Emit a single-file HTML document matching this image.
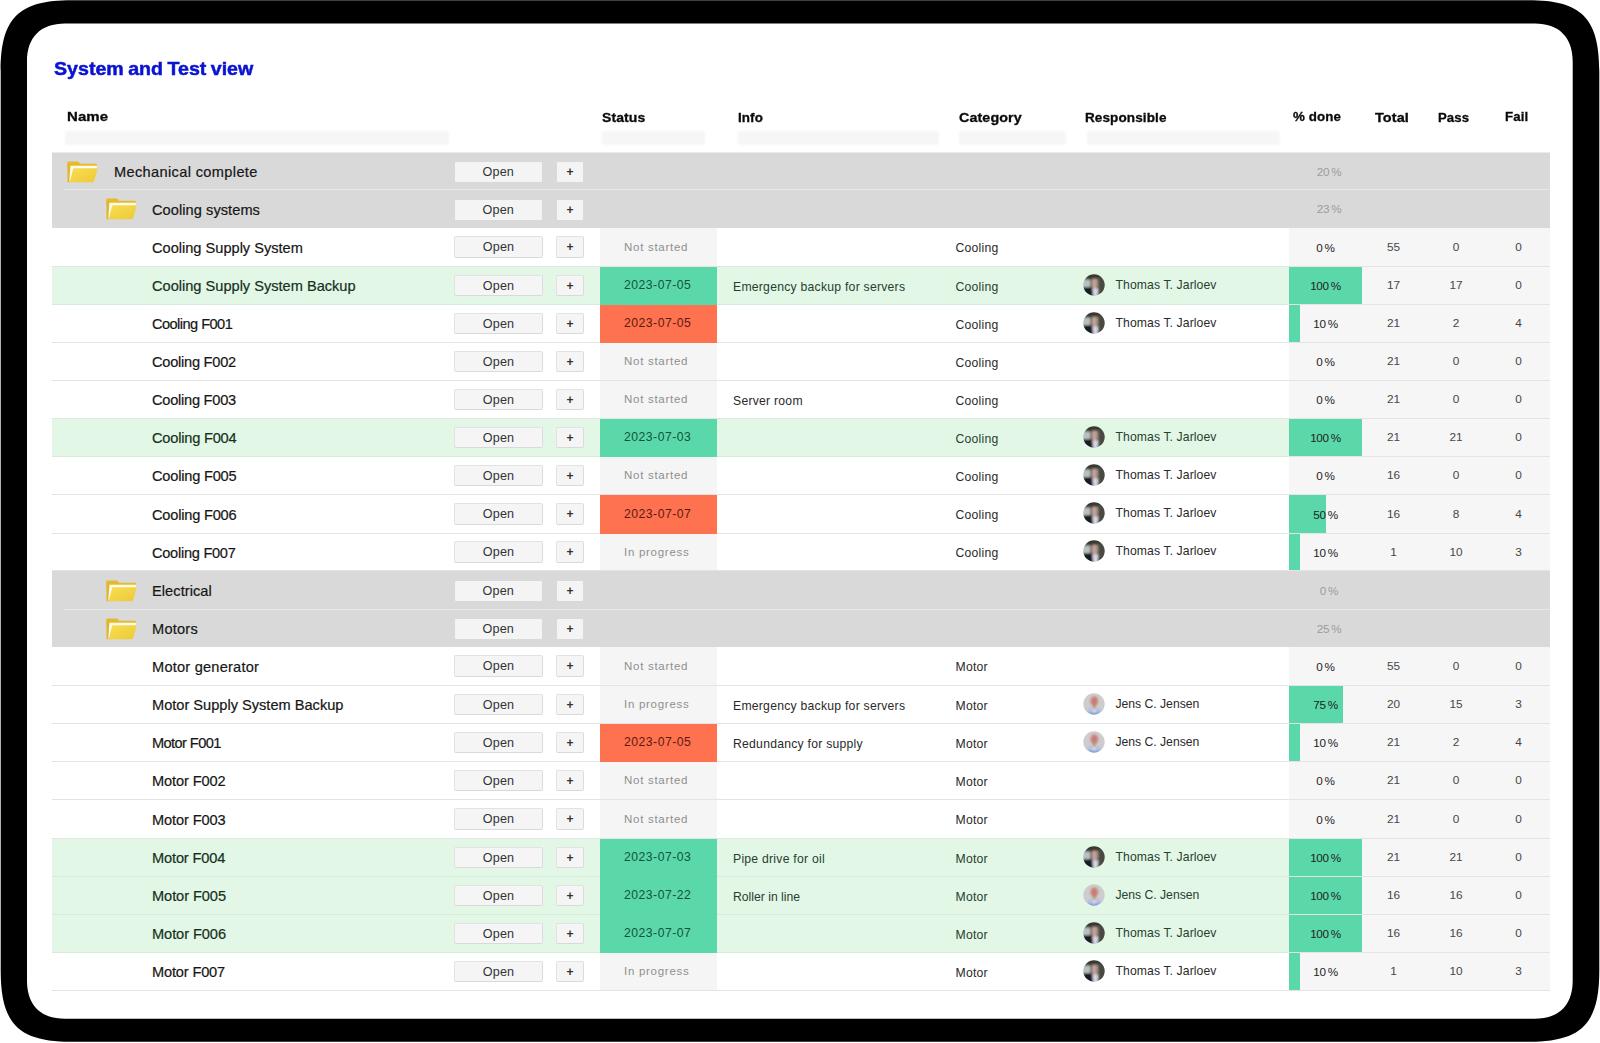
<!DOCTYPE html>
<html lang="en"><head><meta charset="utf-8"><title>System and Test view</title>
<style>
*{box-sizing:border-box;margin:0;padding:0}
html,body{width:1600px;height:1043px;overflow:hidden;background:#fff}
body{font-family:"Liberation Sans",Arial,sans-serif;color:#1c1c1c;position:relative}
.frame{position:absolute;left:0;top:0}
.abs{position:absolute;white-space:nowrap}
h1{position:absolute;left:54px;top:56.2px;font-size:18.6px;line-height:26px;font-weight:700;color:#0a12d4;white-space:nowrap;letter-spacing:0;word-spacing:-1px;transform-origin:0 50%;transform:scaleX(1.055);-webkit-text-stroke:.5px #0a12d4}
.th{position:absolute;transform-origin:0 50%;top:108px;font-size:13px;line-height:18px;font-weight:700;color:#0a0a0a;white-space:nowrap;-webkit-text-stroke:.3px #0a0a0a}
.fb{position:absolute;top:131px;height:14px;background:#f6f6f6;border-radius:3px;filter:blur(1.2px)}
.row{position:absolute;left:52px;width:1498px;border-bottom:1px solid #e4e4e4;background:#fff}
.row.g{background:#d9d9d9;border-bottom:none}
.row.g .sep{position:absolute;left:12px;right:0;bottom:-.4px;height:1.7px;background:#e8e8e8}
.row.ok{background:#e3f7e6;border-bottom-color:#d6ebda}
.row.ok .nm{color:#14301e;-webkit-text-stroke-color:#14301e}
.row.ok .info,.row.ok .cat,.row.ok .rn{color:#26402f}
.row > *{position:absolute}
.nm{font-size:14.6px;line-height:20px;top:50%;margin-top:-9.5px;white-space:nowrap;color:#161616;-webkit-text-stroke:.2px #161616}
.btn{top:50%;margin-top:-11px;height:21.8px;background:#f5f5f5;border:1px solid #e2e2e2;border-bottom-color:#d9d9d9;border-right-color:#dcdcdc;border-radius:2px;font-size:12.6px;line-height:21.4px;text-align:center;color:#333;letter-spacing:.2px}
.row.g .btn{border:none;background:#f4f4f4;height:19.8px;margin-top:-9.2px;line-height:20.6px;border-radius:1px}
.row.g .open{left:403px;width:86.5px}
.row.g .plus{left:505.1px;width:26px}
.open{left:402px;width:89px}
.plus{left:504px;width:28px;font-size:12px;font-weight:700;letter-spacing:0}
.st{left:548px;width:117px;top:0;bottom:-1px;font-size:12.2px;letter-spacing:.4px;background:#f5f5f5;color:#8f8f8f}
.st span{position:absolute;left:24px;top:50%;margin-top:-9.8px;line-height:18px;white-space:nowrap}
.pc span{position:absolute;left:0;right:0;top:50%;margin-top:-8.4px;line-height:18px;word-spacing:-.9px;letter-spacing:-.3px}
.st.ns{bottom:0}
.st.ns span{font-size:11.5px;letter-spacing:.72px;margin-top:-9.2px}
.st.ok{background:#5ad8aa;color:#11543c;letter-spacing:.5px}
.st.bad{background:#ff7250;color:#5a1a12;letter-spacing:.5px}
.info,.cat{font-size:12.2px;letter-spacing:.25px;line-height:18px;top:50%;margin-top:-8px;white-space:nowrap;color:#2a2a2a}
.info{left:681px}
.cat{left:903.5px}
.av{left:1030.5px;top:50%;margin-top:-11.8px}
.rn{left:1063.5px;font-size:12.2px;letter-spacing:.1px;line-height:18px;top:50%;margin-top:-10px;white-space:nowrap;color:#2a2a2a}
.nums{left:1237px;right:0;top:0;bottom:-1px;background:#f6f6f6;border-bottom:1px solid #e4e4e4}
.pc{left:1237px;width:73px;top:0;bottom:0;font-size:11.7px;text-align:center;color:#222}
.pc i{position:absolute;left:0;top:0;bottom:0;background:#5ad8aa}
.n{font-size:11.8px;line-height:18px;top:50%;margin-top:-9.3px;width:40px;text-align:center;color:#464646}
.gp{left:1257px;width:40px;text-align:center;font-size:11.7px;line-height:18px;top:50%;margin-top:-9px;color:#9c9c9c;word-spacing:-.9px;letter-spacing:-.3px}
.fold{top:50%;margin-top:-10.8px}
</style></head><body>
<svg class="frame" width="1600" height="1043" viewBox="0 0 1600 1043"><path fill="#000" fill-rule="evenodd" d="M71.7 0.3H1528.3C1581.55 0.3 1599.3 18.05 1599.3 71.3V970.8C1599.3 1024.05 1581.55 1041.8 1528.3 1041.8H71.7C18.45 1041.8 0.7 1024.05 0.7 970.8V71.3C0.7 18.05 18.45 0.3 71.7 0.3ZM65.0 23.4H1534.7C1559.02 23.4 1572.7 37.08 1572.7 61.4V980.7C1572.7 1005.0200000000001 1559.02 1018.7 1534.7 1018.7H65.0C40.68 1018.7 27.0 1005.0200000000001 27.0 980.7V61.4C27.0 37.08 40.68 23.4 65.0 23.4Z"/></svg>
<svg width="0" height="0" style="position:absolute"><defs><linearGradient id="fg" x1="0" y1="0" x2="1" y2="1"><stop offset="0" stop-color="#f8dd55"/><stop offset="1" stop-color="#eec936"/></linearGradient><clipPath id="cc"><circle cx="11" cy="11" r="10.7"/></clipPath><filter id="bl" x="-20%" y="-20%" width="140%" height="140%"><feGaussianBlur stdDeviation="1.1"/></filter></defs></svg>
<h1>System and Test view</h1>

<div class="th" style="left:66.9px;top:108.0px;letter-spacing:0.1px;transform:scaleX(1.15)">Name</div>
<div class="th" style="left:602.2px;top:109.0px;letter-spacing:0.1px;transform:scaleX(1.075)">Status</div>
<div class="th" style="left:738px;top:109.0px;letter-spacing:0.1px;transform:scaleX(1.03)">Info</div>
<div class="th" style="left:959.2px;top:109.0px;letter-spacing:0.1px;transform:scaleX(1.1)">Category</div>
<div class="th" style="left:1085px;top:109.0px;letter-spacing:0.1px;transform:scaleX(1.04)">Responsible</div>
<div class="th" style="left:1293.3px;top:108.0px;letter-spacing:0.1px;transform:scaleX(1.025)">% done</div>
<div class="th" style="left:1375.1px;top:109.0px;letter-spacing:0.1px;transform:scaleX(1.11)">Total</div>
<div class="th" style="left:1438.1px;top:109.0px;letter-spacing:0.1px;transform:scaleX(1.01)">Pass</div>
<div class="th" style="left:1505.3px;top:108.0px;letter-spacing:0.1px;transform:scaleX(1.02)">Fail</div>
<div class="fb" style="left:65px;width:384px"></div>
<div class="fb" style="left:602px;width:103px"></div>
<div class="fb" style="left:738px;width:201px"></div>
<div class="fb" style="left:959px;width:107px"></div>
<div class="fb" style="left:1087px;width:193px"></div>
<div style="position:absolute;left:52px;width:1498px;top:152px;height:1px;background:#ececec"></div>
<div class="row g" style="top:153px;height:37px"><svg class="fold" style="left:15.1px" width="31" height="22" viewBox="0 0 31 22"><path d="M.5 1.6Q.5 .5 1.6 .5H10.4Q11.5 .5 12 1.3L12.8 2.7H28.9Q30 2.7 30 3.8V8H.5Z" fill="#e4bb2d"/><path d="M.5 1.6V20.2Q.5 21.3 1.6 21.3H3L5.5 7.5Z" fill="#e1b62a"/><path d="M3.4 4.7H29.9V8.2H6.4L3.4 20.6H2.3Z" fill="#fffbe9"/><path d="M6.3 7.3H29.8Q30.9 7.3 30.6 8.3L27 20.3Q26.7 21.3 25.6 21.3H2.7Z" fill="url(#fg)"/></svg><div class="nm" style="left:62px;letter-spacing:0.35px">Mechanical complete</div><div class="btn open">Open</div><div class="btn plus">+</div><div class="gp">20 %</div><div class="sep"></div></div>
<div class="row g" style="top:190px;height:38px"><svg class="fold" style="left:53.5px" width="31" height="22" viewBox="0 0 31 22"><path d="M.5 1.6Q.5 .5 1.6 .5H10.4Q11.5 .5 12 1.3L12.8 2.7H28.9Q30 2.7 30 3.8V8H.5Z" fill="#e4bb2d"/><path d="M.5 1.6V20.2Q.5 21.3 1.6 21.3H3L5.5 7.5Z" fill="#e1b62a"/><path d="M3.4 4.7H29.9V8.2H6.4L3.4 20.6H2.3Z" fill="#fffbe9"/><path d="M6.3 7.3H29.8Q30.9 7.3 30.6 8.3L27 20.3Q26.7 21.3 25.6 21.3H2.7Z" fill="url(#fg)"/></svg><div class="nm" style="left:100px;letter-spacing:0.06px">Cooling systems</div><div class="btn open">Open</div><div class="btn plus">+</div><div class="gp">23 %</div></div>
<div class="row" style="top:228px;height:39px"><div class="nm" style="left:100px;letter-spacing:0px">Cooling Supply System</div><div class="btn open">Open</div><div class="btn plus">+</div><div class="st ns"><span>Not started</span></div><div class="cat" style="left:903.5px">Cooling</div><div class="nums"></div><div class="pc"><i style="width:0px"></i><span>0 %</span></div><div class="n" style="left:1321.5px">55</div><div class="n" style="left:1384px">0</div><div class="n" style="left:1446.5px">0</div></div>
<div class="row ok" style="top:267px;height:38px"><div class="nm" style="left:100px;letter-spacing:0px">Cooling Supply System Backup</div><div class="btn open">Open</div><div class="btn plus">+</div><div class="st ok"><span>2023-07-05</span></div><div class="info">Emergency backup for servers</div><div class="cat" style="left:903.5px">Cooling</div><svg class="av" width="22" height="22" viewBox="0 0 22 22"><g clip-path="url(#cc)"><g filter="url(#bl)"><rect x="-2" y="-2" width="26" height="26" fill="#34372f"/><rect x="14" y="3" width="9" height="20" fill="#4a4a42"/><rect x="-1" y="5.5" width="8.5" height="8" fill="#b9c2c2"/><path d="M7 1.5H15.5V6H7Z" fill="#3a3a30"/><rect x="8.8" y="4.8" width="5" height="9.6" rx="1.5" fill="#c9a096"/><rect x="13.2" y="5" width="2" height="8" fill="#9a9488"/><path d="M-1 13.5L9.5 13V23H-1Z" fill="#161d20"/><path d="M9.3 14.2H15.3L14.5 23H10.5Z" fill="#d9d9e6"/></g></g></svg><div class="rn">Thomas T. Jarloev</div><div class="nums"></div><div class="pc"><i style="width:73px"></i><span>100 %</span></div><div class="n" style="left:1321.5px">17</div><div class="n" style="left:1384px">17</div><div class="n" style="left:1446.5px">0</div></div>
<div class="row" style="top:305px;height:38px"><div class="nm" style="left:100px;letter-spacing:-0.55px">Cooling F001</div><div class="btn open">Open</div><div class="btn plus">+</div><div class="st bad"><span>2023-07-05</span></div><div class="cat" style="left:903.5px">Cooling</div><svg class="av" width="22" height="22" viewBox="0 0 22 22"><g clip-path="url(#cc)"><g filter="url(#bl)"><rect x="-2" y="-2" width="26" height="26" fill="#34372f"/><rect x="14" y="3" width="9" height="20" fill="#4a4a42"/><rect x="-1" y="5.5" width="8.5" height="8" fill="#b9c2c2"/><path d="M7 1.5H15.5V6H7Z" fill="#3a3a30"/><rect x="8.8" y="4.8" width="5" height="9.6" rx="1.5" fill="#c9a096"/><rect x="13.2" y="5" width="2" height="8" fill="#9a9488"/><path d="M-1 13.5L9.5 13V23H-1Z" fill="#161d20"/><path d="M9.3 14.2H15.3L14.5 23H10.5Z" fill="#d9d9e6"/></g></g></svg><div class="rn">Thomas T. Jarloev</div><div class="nums"></div><div class="pc"><i style="width:11px"></i><span>10 %</span></div><div class="n" style="left:1321.5px">21</div><div class="n" style="left:1384px">2</div><div class="n" style="left:1446.5px">4</div></div>
<div class="row" style="top:343px;height:38px"><div class="nm" style="left:100px;letter-spacing:-0.24px">Cooling F002</div><div class="btn open">Open</div><div class="btn plus">+</div><div class="st ns"><span>Not started</span></div><div class="cat" style="left:903.5px">Cooling</div><div class="nums"></div><div class="pc"><i style="width:0px"></i><span>0 %</span></div><div class="n" style="left:1321.5px">21</div><div class="n" style="left:1384px">0</div><div class="n" style="left:1446.5px">0</div></div>
<div class="row" style="top:381px;height:38px"><div class="nm" style="left:100px;letter-spacing:-0.24px">Cooling F003</div><div class="btn open">Open</div><div class="btn plus">+</div><div class="st ns"><span>Not started</span></div><div class="info">Server room</div><div class="cat" style="left:903.5px">Cooling</div><div class="nums"></div><div class="pc"><i style="width:0px"></i><span>0 %</span></div><div class="n" style="left:1321.5px">21</div><div class="n" style="left:1384px">0</div><div class="n" style="left:1446.5px">0</div></div>
<div class="row ok" style="top:419px;height:38px"><div class="nm" style="left:100px;letter-spacing:-0.2px">Cooling F004</div><div class="btn open">Open</div><div class="btn plus">+</div><div class="st ok"><span>2023-07-03</span></div><div class="cat" style="left:903.5px">Cooling</div><svg class="av" width="22" height="22" viewBox="0 0 22 22"><g clip-path="url(#cc)"><g filter="url(#bl)"><rect x="-2" y="-2" width="26" height="26" fill="#34372f"/><rect x="14" y="3" width="9" height="20" fill="#4a4a42"/><rect x="-1" y="5.5" width="8.5" height="8" fill="#b9c2c2"/><path d="M7 1.5H15.5V6H7Z" fill="#3a3a30"/><rect x="8.8" y="4.8" width="5" height="9.6" rx="1.5" fill="#c9a096"/><rect x="13.2" y="5" width="2" height="8" fill="#9a9488"/><path d="M-1 13.5L9.5 13V23H-1Z" fill="#161d20"/><path d="M9.3 14.2H15.3L14.5 23H10.5Z" fill="#d9d9e6"/></g></g></svg><div class="rn">Thomas T. Jarloev</div><div class="nums"></div><div class="pc"><i style="width:73px"></i><span>100 %</span></div><div class="n" style="left:1321.5px">21</div><div class="n" style="left:1384px">21</div><div class="n" style="left:1446.5px">0</div></div>
<div class="row" style="top:457px;height:38px"><div class="nm" style="left:100px;letter-spacing:-0.2px">Cooling F005</div><div class="btn open">Open</div><div class="btn plus">+</div><div class="st ns"><span>Not started</span></div><div class="cat" style="left:903.5px">Cooling</div><svg class="av" width="22" height="22" viewBox="0 0 22 22"><g clip-path="url(#cc)"><g filter="url(#bl)"><rect x="-2" y="-2" width="26" height="26" fill="#34372f"/><rect x="14" y="3" width="9" height="20" fill="#4a4a42"/><rect x="-1" y="5.5" width="8.5" height="8" fill="#b9c2c2"/><path d="M7 1.5H15.5V6H7Z" fill="#3a3a30"/><rect x="8.8" y="4.8" width="5" height="9.6" rx="1.5" fill="#c9a096"/><rect x="13.2" y="5" width="2" height="8" fill="#9a9488"/><path d="M-1 13.5L9.5 13V23H-1Z" fill="#161d20"/><path d="M9.3 14.2H15.3L14.5 23H10.5Z" fill="#d9d9e6"/></g></g></svg><div class="rn">Thomas T. Jarloev</div><div class="nums"></div><div class="pc"><i style="width:0px"></i><span>0 %</span></div><div class="n" style="left:1321.5px">16</div><div class="n" style="left:1384px">0</div><div class="n" style="left:1446.5px">0</div></div>
<div class="row" style="top:495px;height:39px"><div class="nm" style="left:100px;letter-spacing:-0.2px">Cooling F006</div><div class="btn open">Open</div><div class="btn plus">+</div><div class="st bad"><span>2023-07-07</span></div><div class="cat" style="left:903.5px">Cooling</div><svg class="av" width="22" height="22" viewBox="0 0 22 22"><g clip-path="url(#cc)"><g filter="url(#bl)"><rect x="-2" y="-2" width="26" height="26" fill="#34372f"/><rect x="14" y="3" width="9" height="20" fill="#4a4a42"/><rect x="-1" y="5.5" width="8.5" height="8" fill="#b9c2c2"/><path d="M7 1.5H15.5V6H7Z" fill="#3a3a30"/><rect x="8.8" y="4.8" width="5" height="9.6" rx="1.5" fill="#c9a096"/><rect x="13.2" y="5" width="2" height="8" fill="#9a9488"/><path d="M-1 13.5L9.5 13V23H-1Z" fill="#161d20"/><path d="M9.3 14.2H15.3L14.5 23H10.5Z" fill="#d9d9e6"/></g></g></svg><div class="rn">Thomas T. Jarloev</div><div class="nums"></div><div class="pc"><i style="width:36.5px"></i><span>50 %</span></div><div class="n" style="left:1321.5px">16</div><div class="n" style="left:1384px">8</div><div class="n" style="left:1446.5px">4</div></div>
<div class="row" style="top:534px;height:37px"><div class="nm" style="left:100px;letter-spacing:-0.27px">Cooling F007</div><div class="btn open">Open</div><div class="btn plus">+</div><div class="st ns"><span>In progress</span></div><div class="cat" style="left:903.5px">Cooling</div><svg class="av" width="22" height="22" viewBox="0 0 22 22"><g clip-path="url(#cc)"><g filter="url(#bl)"><rect x="-2" y="-2" width="26" height="26" fill="#34372f"/><rect x="14" y="3" width="9" height="20" fill="#4a4a42"/><rect x="-1" y="5.5" width="8.5" height="8" fill="#b9c2c2"/><path d="M7 1.5H15.5V6H7Z" fill="#3a3a30"/><rect x="8.8" y="4.8" width="5" height="9.6" rx="1.5" fill="#c9a096"/><rect x="13.2" y="5" width="2" height="8" fill="#9a9488"/><path d="M-1 13.5L9.5 13V23H-1Z" fill="#161d20"/><path d="M9.3 14.2H15.3L14.5 23H10.5Z" fill="#d9d9e6"/></g></g></svg><div class="rn">Thomas T. Jarloev</div><div class="nums"></div><div class="pc"><i style="width:11px"></i><span>10 %</span></div><div class="n" style="left:1321.5px">1</div><div class="n" style="left:1384px">10</div><div class="n" style="left:1446.5px">3</div></div>
<div class="row g" style="top:571px;height:39px"><svg class="fold" style="left:53.5px" width="31" height="22" viewBox="0 0 31 22"><path d="M.5 1.6Q.5 .5 1.6 .5H10.4Q11.5 .5 12 1.3L12.8 2.7H28.9Q30 2.7 30 3.8V8H.5Z" fill="#e4bb2d"/><path d="M.5 1.6V20.2Q.5 21.3 1.6 21.3H3L5.5 7.5Z" fill="#e1b62a"/><path d="M3.4 4.7H29.9V8.2H6.4L3.4 20.6H2.3Z" fill="#fffbe9"/><path d="M6.3 7.3H29.8Q30.9 7.3 30.6 8.3L27 20.3Q26.7 21.3 25.6 21.3H2.7Z" fill="url(#fg)"/></svg><div class="nm" style="left:100px;letter-spacing:0.06px">Electrical</div><div class="btn open">Open</div><div class="btn plus">+</div><div class="gp">0 %</div><div class="sep"></div></div>
<div class="row g" style="top:610px;height:37px"><svg class="fold" style="left:53.5px" width="31" height="22" viewBox="0 0 31 22"><path d="M.5 1.6Q.5 .5 1.6 .5H10.4Q11.5 .5 12 1.3L12.8 2.7H28.9Q30 2.7 30 3.8V8H.5Z" fill="#e4bb2d"/><path d="M.5 1.6V20.2Q.5 21.3 1.6 21.3H3L5.5 7.5Z" fill="#e1b62a"/><path d="M3.4 4.7H29.9V8.2H6.4L3.4 20.6H2.3Z" fill="#fffbe9"/><path d="M6.3 7.3H29.8Q30.9 7.3 30.6 8.3L27 20.3Q26.7 21.3 25.6 21.3H2.7Z" fill="url(#fg)"/></svg><div class="nm" style="left:100px;letter-spacing:0.22px">Motors</div><div class="btn open">Open</div><div class="btn plus">+</div><div class="gp">25 %</div></div>
<div class="row" style="top:647px;height:39px"><div class="nm" style="left:100px;letter-spacing:0.22px">Motor generator</div><div class="btn open">Open</div><div class="btn plus">+</div><div class="st ns"><span>Not started</span></div><div class="cat" style="left:903.5px">Motor</div><div class="nums"></div><div class="pc"><i style="width:0px"></i><span>0 %</span></div><div class="n" style="left:1321.5px">55</div><div class="n" style="left:1384px">0</div><div class="n" style="left:1446.5px">0</div></div>
<div class="row" style="top:686px;height:38px"><div class="nm" style="left:100px;letter-spacing:0px">Motor Supply System Backup</div><div class="btn open">Open</div><div class="btn plus">+</div><div class="st ns"><span>In progress</span></div><div class="info">Emergency backup for servers</div><div class="cat" style="left:903.5px">Motor</div><svg class="av" width="22" height="22" viewBox="0 0 22 22"><g clip-path="url(#cc)"><g filter="url(#bl)"><rect x="-2" y="-2" width="26" height="26" fill="#cdcdd0"/><ellipse cx="11.2" cy="7.6" rx="5.2" ry="6" fill="#d9c9c6"/><ellipse cx="11.3" cy="8.2" rx="3.9" ry="4.9" fill="#c67f78"/><rect x="9.9" y="12" width="2.7" height="3.6" fill="#c28d3c"/><path d="M2.5 23Q3.5 14.8 9.6 14.2L11.2 17.5L12.8 14.2Q19 14.8 19.8 23Z" fill="#b4bfe2"/><path d="M9.6 14.2L11.2 17.8L12.8 14.2L12.2 22H10.2Z" fill="#e6e6f0"/><rect x="5" y="19.6" width="12.5" height="4" fill="#7f9cc8"/></g></g></svg><div class="rn" style="letter-spacing:-.02px">Jens C. Jensen</div><div class="nums"></div><div class="pc"><i style="width:53.5px"></i><span>75 %</span></div><div class="n" style="left:1321.5px">20</div><div class="n" style="left:1384px">15</div><div class="n" style="left:1446.5px">3</div></div>
<div class="row" style="top:724px;height:38px"><div class="nm" style="left:100px;letter-spacing:-0.59px">Motor F001</div><div class="btn open">Open</div><div class="btn plus">+</div><div class="st bad"><span>2023-07-05</span></div><div class="info">Redundancy for supply</div><div class="cat" style="left:903.5px">Motor</div><svg class="av" width="22" height="22" viewBox="0 0 22 22"><g clip-path="url(#cc)"><g filter="url(#bl)"><rect x="-2" y="-2" width="26" height="26" fill="#cdcdd0"/><ellipse cx="11.2" cy="7.6" rx="5.2" ry="6" fill="#d9c9c6"/><ellipse cx="11.3" cy="8.2" rx="3.9" ry="4.9" fill="#c67f78"/><rect x="9.9" y="12" width="2.7" height="3.6" fill="#c28d3c"/><path d="M2.5 23Q3.5 14.8 9.6 14.2L11.2 17.5L12.8 14.2Q19 14.8 19.8 23Z" fill="#b4bfe2"/><path d="M9.6 14.2L11.2 17.8L12.8 14.2L12.2 22H10.2Z" fill="#e6e6f0"/><rect x="5" y="19.6" width="12.5" height="4" fill="#7f9cc8"/></g></g></svg><div class="rn" style="letter-spacing:-.02px">Jens C. Jensen</div><div class="nums"></div><div class="pc"><i style="width:11px"></i><span>10 %</span></div><div class="n" style="left:1321.5px">21</div><div class="n" style="left:1384px">2</div><div class="n" style="left:1446.5px">4</div></div>
<div class="row" style="top:762px;height:38px"><div class="nm" style="left:100px;letter-spacing:-0.11px">Motor F002</div><div class="btn open">Open</div><div class="btn plus">+</div><div class="st ns"><span>Not started</span></div><div class="cat" style="left:903.5px">Motor</div><div class="nums"></div><div class="pc"><i style="width:0px"></i><span>0 %</span></div><div class="n" style="left:1321.5px">21</div><div class="n" style="left:1384px">0</div><div class="n" style="left:1446.5px">0</div></div>
<div class="row" style="top:800px;height:39px"><div class="nm" style="left:100px;letter-spacing:-0.11px">Motor F003</div><div class="btn open">Open</div><div class="btn plus">+</div><div class="st ns"><span>Not started</span></div><div class="cat" style="left:903.5px">Motor</div><div class="nums"></div><div class="pc"><i style="width:0px"></i><span>0 %</span></div><div class="n" style="left:1321.5px">21</div><div class="n" style="left:1384px">0</div><div class="n" style="left:1446.5px">0</div></div>
<div class="row ok" style="top:839px;height:38px"><div class="nm" style="left:100px;letter-spacing:-0.15px">Motor F004</div><div class="btn open">Open</div><div class="btn plus">+</div><div class="st ok"><span>2023-07-03</span></div><div class="info">Pipe drive for oil</div><div class="cat" style="left:903.5px">Motor</div><svg class="av" width="22" height="22" viewBox="0 0 22 22"><g clip-path="url(#cc)"><g filter="url(#bl)"><rect x="-2" y="-2" width="26" height="26" fill="#34372f"/><rect x="14" y="3" width="9" height="20" fill="#4a4a42"/><rect x="-1" y="5.5" width="8.5" height="8" fill="#b9c2c2"/><path d="M7 1.5H15.5V6H7Z" fill="#3a3a30"/><rect x="8.8" y="4.8" width="5" height="9.6" rx="1.5" fill="#c9a096"/><rect x="13.2" y="5" width="2" height="8" fill="#9a9488"/><path d="M-1 13.5L9.5 13V23H-1Z" fill="#161d20"/><path d="M9.3 14.2H15.3L14.5 23H10.5Z" fill="#d9d9e6"/></g></g></svg><div class="rn">Thomas T. Jarloev</div><div class="nums"></div><div class="pc"><i style="width:73px"></i><span>100 %</span></div><div class="n" style="left:1321.5px">21</div><div class="n" style="left:1384px">21</div><div class="n" style="left:1446.5px">0</div></div>
<div class="row ok" style="top:877px;height:38px"><div class="nm" style="left:100px;letter-spacing:-0.07px">Motor F005</div><div class="btn open">Open</div><div class="btn plus">+</div><div class="st ok"><span>2023-07-22</span></div><div class="info" style="letter-spacing:0">Roller in line</div><div class="cat" style="left:903.5px">Motor</div><svg class="av" width="22" height="22" viewBox="0 0 22 22"><g clip-path="url(#cc)"><g filter="url(#bl)"><rect x="-2" y="-2" width="26" height="26" fill="#cdcdd0"/><ellipse cx="11.2" cy="7.6" rx="5.2" ry="6" fill="#d9c9c6"/><ellipse cx="11.3" cy="8.2" rx="3.9" ry="4.9" fill="#c67f78"/><rect x="9.9" y="12" width="2.7" height="3.6" fill="#c28d3c"/><path d="M2.5 23Q3.5 14.8 9.6 14.2L11.2 17.5L12.8 14.2Q19 14.8 19.8 23Z" fill="#b4bfe2"/><path d="M9.6 14.2L11.2 17.8L12.8 14.2L12.2 22H10.2Z" fill="#e6e6f0"/><rect x="5" y="19.6" width="12.5" height="4" fill="#7f9cc8"/></g></g></svg><div class="rn" style="letter-spacing:-.02px">Jens C. Jensen</div><div class="nums"></div><div class="pc"><i style="width:73px"></i><span>100 %</span></div><div class="n" style="left:1321.5px">16</div><div class="n" style="left:1384px">16</div><div class="n" style="left:1446.5px">0</div></div>
<div class="row ok" style="top:915px;height:38px"><div class="nm" style="left:100px;letter-spacing:-0.07px">Motor F006</div><div class="btn open">Open</div><div class="btn plus">+</div><div class="st ok"><span>2023-07-07</span></div><div class="cat" style="left:903.5px">Motor</div><svg class="av" width="22" height="22" viewBox="0 0 22 22"><g clip-path="url(#cc)"><g filter="url(#bl)"><rect x="-2" y="-2" width="26" height="26" fill="#34372f"/><rect x="14" y="3" width="9" height="20" fill="#4a4a42"/><rect x="-1" y="5.5" width="8.5" height="8" fill="#b9c2c2"/><path d="M7 1.5H15.5V6H7Z" fill="#3a3a30"/><rect x="8.8" y="4.8" width="5" height="9.6" rx="1.5" fill="#c9a096"/><rect x="13.2" y="5" width="2" height="8" fill="#9a9488"/><path d="M-1 13.5L9.5 13V23H-1Z" fill="#161d20"/><path d="M9.3 14.2H15.3L14.5 23H10.5Z" fill="#d9d9e6"/></g></g></svg><div class="rn">Thomas T. Jarloev</div><div class="nums"></div><div class="pc"><i style="width:73px"></i><span>100 %</span></div><div class="n" style="left:1321.5px">16</div><div class="n" style="left:1384px">16</div><div class="n" style="left:1446.5px">0</div></div>
<div class="row" style="top:953px;height:38px"><div class="nm" style="left:100px;letter-spacing:-0.16px">Motor F007</div><div class="btn open">Open</div><div class="btn plus">+</div><div class="st ns"><span>In progress</span></div><div class="cat" style="left:903.5px">Motor</div><svg class="av" width="22" height="22" viewBox="0 0 22 22"><g clip-path="url(#cc)"><g filter="url(#bl)"><rect x="-2" y="-2" width="26" height="26" fill="#34372f"/><rect x="14" y="3" width="9" height="20" fill="#4a4a42"/><rect x="-1" y="5.5" width="8.5" height="8" fill="#b9c2c2"/><path d="M7 1.5H15.5V6H7Z" fill="#3a3a30"/><rect x="8.8" y="4.8" width="5" height="9.6" rx="1.5" fill="#c9a096"/><rect x="13.2" y="5" width="2" height="8" fill="#9a9488"/><path d="M-1 13.5L9.5 13V23H-1Z" fill="#161d20"/><path d="M9.3 14.2H15.3L14.5 23H10.5Z" fill="#d9d9e6"/></g></g></svg><div class="rn">Thomas T. Jarloev</div><div class="nums"></div><div class="pc"><i style="width:11px"></i><span>10 %</span></div><div class="n" style="left:1321.5px">1</div><div class="n" style="left:1384px">10</div><div class="n" style="left:1446.5px">3</div></div>
</body></html>
